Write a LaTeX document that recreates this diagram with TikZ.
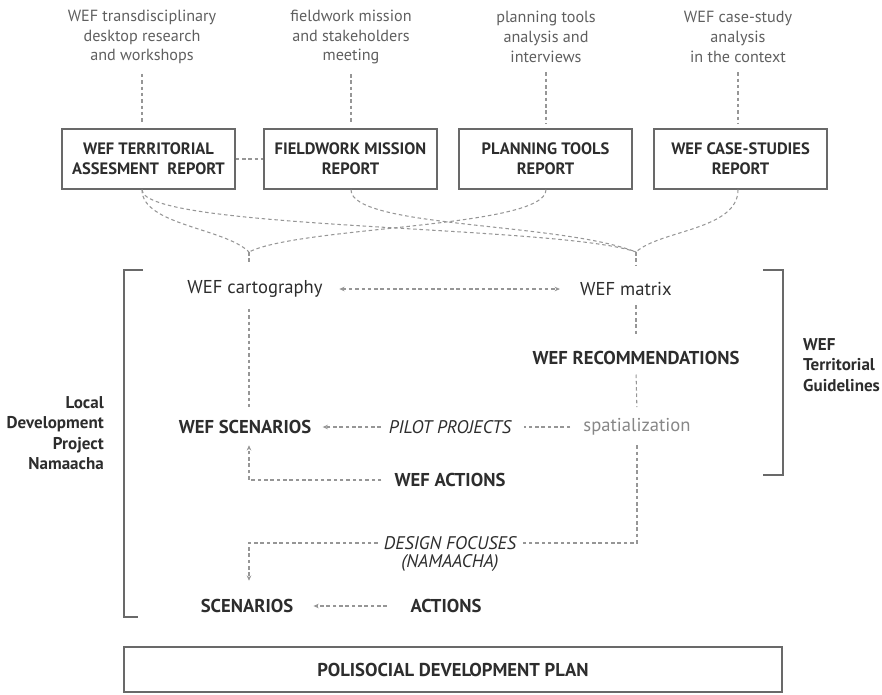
\documentclass[tikz,border=0pt]{standalone}
\usepackage{fontspec}
\setmainfont{PT Sans}
\usepackage{tikz}
\usetikzlibrary{positioning, arrows.meta, calc}
\definecolor{inkgray}  {RGB}{45, 45, 45}
\definecolor{notegray} {RGB}{95, 95, 95}
\definecolor{linegray} {RGB}{105, 105, 105}
\definecolor{dashgray} {RGB}{150, 150, 150}
\definecolor{softgray} {RGB}{135, 135, 135}
\tikzset{
  % Source note above a report
  srcnote/.style={
    font=\fontsize{9.2}{11.3}\selectfont, align=center, text=notegray
  },
  % Report box
  report/.style={
    rectangle, minimum width=3.46cm, minimum height=1.2cm,
    draw=linegray, line width=0.8pt,
    font=\fontsize{9.4}{11.3}\selectfont\bfseries, align=center, text=inkgray
  },
  % Labels inside the brackets
  lbl/.style={font=\fontsize{10.6}{12}\selectfont, text=inkgray},
  keylbl/.style={font=\fontsize{10.6}{12}\selectfont\bfseries, text=inkgray},
  itlbl/.style={font=\fontsize{10.4}{12}\selectfont\itshape, text=inkgray},
  sidelbl/.style={font=\fontsize{9.7}{11.6}\selectfont\bfseries, text=inkgray},
  % Dashed links and arrows
  link/.style={dashgray, line width=0.6pt, dash pattern=on 2pt off 1.6pt},
  arr/.style={link, -{Stealth[length=3pt, width=2.6pt]}},
  bracket/.style={linegray, line width=1pt},
}

\begin{document}
\begin{tikzpicture}[x=0.02cm, y=-0.02cm]
  \useasboundingbox (0,0) rectangle (882,694);
  % sources and reports
  \node[srcnote] (src1) at (142,37) {WEF transdisciplinary\\desktop research\\and workshops};
  \node[srcnote] (src2) at (351,37) {fieldwork mission\\and stakeholders\\meeting};
  \node[srcnote] (src3) at (546,37) {planning tools\\analysis and\\interviews};
  \node[srcnote] (src4) at (738,37) {WEF case-study\\analysis\\in the context};
  \node[report] (rep1) at (148.5,159) {WEF TERRITORIAL\\ASSESMENT\ \ REPORT};
  \node[report] (rep2) at (350.5,159) {FIELDWORK MISSION\\REPORT};
  \node[report] (rep3) at (545.5,159) {PLANNING TOOLS\\REPORT};
  \node[report] (rep4) at (740.5,159) {WEF CASE-STUDIES\\REPORT};
  \foreach \i in {1,...,4}
    \draw[link, shorten <=2pt, shorten >=3pt] (src\i.south) -- (src\i.south |- rep\i.north);
  \draw[link] (rep1) -- (rep2);

  % merging curves
  \coordinate (jl) at (249,252);
  \coordinate (jr) at (636,252);
  \coordinate (jlend) at (249,264);
  \coordinate (jrend) at (636,265);
  \draw[link] (rep1.south -| src1) .. controls (142,225) and (225,228) .. (jl);
  \draw[link] (rep3.south -| src3) .. controls (546,228) and (300,226) .. (jl);
  \draw[link] (rep1.south -| src1) .. controls (142,230) and (560,225) .. (jr);
  \draw[link] (rep2.south -| src2) .. controls (351,228) and (560,222) .. (jr);
  \draw[link] (rep4.south -| src4) .. controls (738,230) and (660,230) .. (jr);
  \draw[link] (jl) -- (jlend);
  \draw[link] (jr) -- (jrend);

  % brackets
  \draw[bracket] (143,270) -- (124,270) -- (124,617) -- (138,617);
  \draw[bracket] (763,270) -- (783,270) -- (783,475) -- (763,475);
  \node[sidelbl, anchor=east, align=right] (ldp) at (110,433) {Local\\Development\\Project\\Namaacha};
  \node[sidelbl, anchor=west, align=left] (wtg) at (797,365) {WEF\\Territorial\\Guidelines};

  % territorial guidelines
  \node[lbl] (cart) at (255,289) {WEF cartography};
  \node[lbl] (matrix) at (626,289) {WEF matrix};
  \node[keylbl] (rec) at (636,358) {WEF RECOMMENDATIONS};
  \node[lbl, text=softgray] (spat) at (637,427) {spatialization};
  \node[itlbl] (pilot) at (450,427) {PILOT PROJECTS};
  \node[keylbl] (wscen) at (245,427) {WEF SCENARIOS};
  \node[keylbl] (wact) at (450,480) {WEF ACTIONS};
  \draw[link, {Stealth[length=3pt, width=2.6pt]}-{Stealth[length=3pt, width=2.6pt]},
        shorten <=6pt, shorten >=8pt] (cart) -- (matrix);
  \draw[link, shorten <=2pt, shorten >=6pt] (rec.north |- matrix.south) -- (rec.north);
  \draw[link, shorten <=2pt, shorten >=3pt] (rec.south) -- (spat.north);
  \draw[link, shorten <=4pt, shorten >=4pt] (spat) -- (pilot);
  \draw[arr, shorten <=1pt, shorten >=3pt] (pilot) -- (wscen);
  \draw[link, shorten <=3pt, shorten >=3pt] (cart.south -| jl) -- (wscen.north -| jl);
  \draw[arr, shorten >=3pt] ([xshift=-4pt]wact.west) -- (wact.west -| jl) -- (wscen.south -| jl);

  % local development project
  \node[itlbl] (design) at (450,543) {DESIGN FOCUSES};
  \node[itlbl] (namaacha) at (450,563) {(NAMAACHA)};
  \node[keylbl] (scen) at (247,606) {SCENARIOS};
  \node[keylbl] (act) at (446,606) {ACTIONS};
  \draw[link, shorten <=2pt] (spat.south) -- (spat.south |- design.east) -- (design.east);
  \draw[arr, shorten >=7pt] (design.west) -- (design.west -| jl) -- (scen.north -| jl);
  \draw[arr, shorten <=10pt, shorten >=8pt] (act) -- (scen);

  % plan
  \node[report, minimum width=13.16cm, minimum height=0.9cm,
        font=\fontsize{10.6}{12}\selectfont\bfseries] (plan) at (453,669.5) {POLISOCIAL DEVELOPMENT PLAN};
\end{tikzpicture}
\end{document}
